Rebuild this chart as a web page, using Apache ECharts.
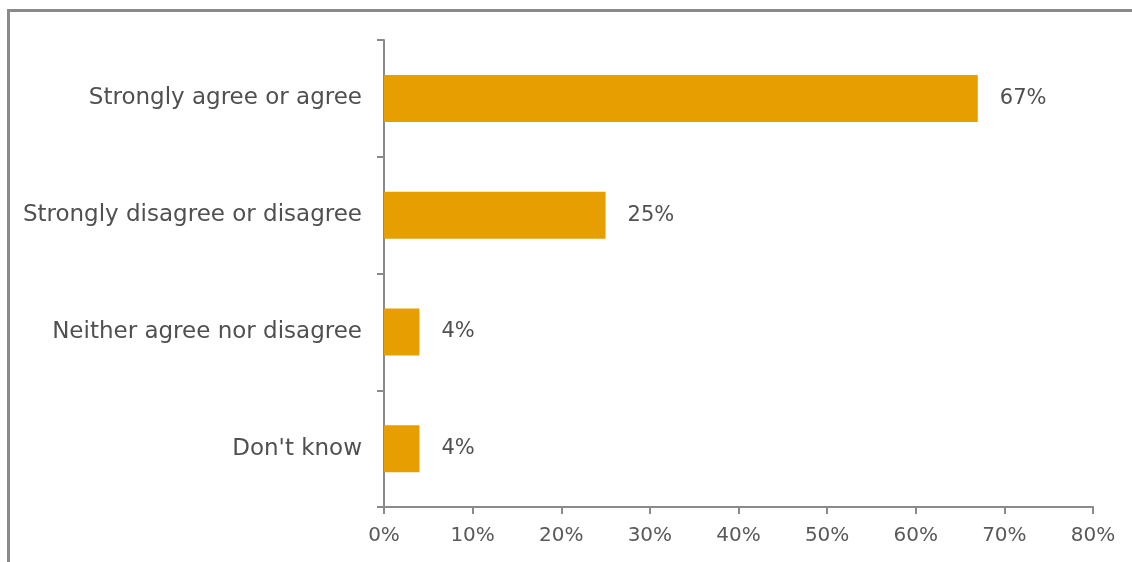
<!DOCTYPE html>
<html>
<head>
<meta charset="utf-8">
<script src="https://cdn.jsdelivr.net/npm/echarts@6/dist/echarts.min.js"></script>
<style>
  html, body { margin: 0; padding: 0; background: #fff; overflow: hidden; }
  #frame {
    position: absolute; left: 7px; top: 9px; width: 1200px; height: 600px;
    border-left: 3px solid #8a8a8a; border-top: 3px solid #8a8a8a;
  }
  #chart { position: absolute; left: 0; top: 0; width: 1132px; height: 562px; }
</style>
</head>
<body>
<div id="frame"></div>
<div id="chart"></div>
<script>
const categories = [
  'Strongly agree or agree',
  'Strongly disagree or disagree',
  'Neither agree nor disagree',
  "Don't know"
];
const values = [67, 25, 4, 4];
const tickMax = 80;

const font = '"DejaVu Sans"';
const chart = echarts.init(document.getElementById('chart'));

chart.setOption({
  animation: false,
  grid: { left: 384, right: 39, top: 40, bottom: 55 },
  xAxis: {
    type: 'value',
    min: 0,
    max: tickMax,
    interval: 10,
    axisLine: { show: true, lineStyle: { color: '#8a8a8a', width: 2 } },
    axisTick: { show: true, length: 7, lineStyle: { color: '#8a8a8a', width: 2 } },
    splitLine: { show: false },
    axisLabel: {
      formatter: '{value}%',
      color: '#595959',
      fontFamily: font,
      fontSize: 20,
      margin: 19
    }
  },
  yAxis: {
    type: 'category',
    inverse: true,
    data: categories,
    axisLine: { show: true, lineStyle: { color: '#8a8a8a', width: 2 } },
    axisTick: { show: true, length: 7, lineStyle: { color: '#8a8a8a', width: 2 } },
    axisLabel: {
      color: '#505050',
      fontFamily: font,
      fontSize: 23,
      margin: 22
    }
  },
  series: [{
    type: 'bar',
    data: values,
    barWidth: 47,
    itemStyle: { color: '#e69e00' },
    label: {
      show: true,
      position: 'right',
      distance: 22,
      formatter: '{c}%',
      color: '#505050',
      fontFamily: font,
      fontSize: 21
    }
  }]
});
</script>
</body>
</html>
